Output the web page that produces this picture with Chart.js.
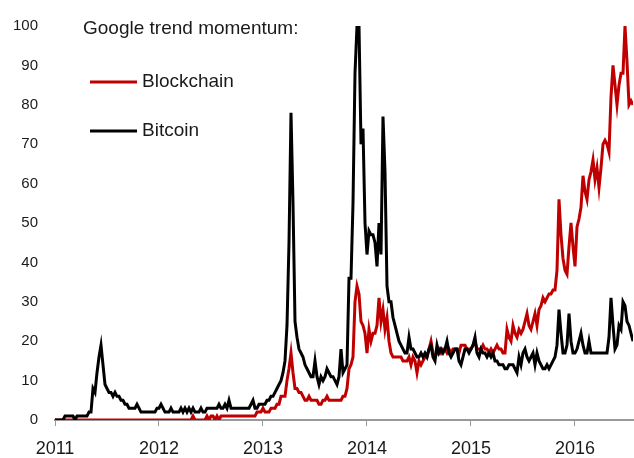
<!DOCTYPE html>
<html>
<head>
<meta charset="utf-8">
<script src="https://cdn.jsdelivr.net/npm/chart.js@4"></script>
<style>
  html, body { margin: 0; padding: 0; background: #fff; }
  canvas { display: block; }
</style>
</head>
<body>
<canvas id="myChart" width="634" height="458"></canvas>
<script>
// weekly Google trend index, first week of 2011 onwards
const startYear = 2011;
const weeksPerYear = 52;
const yearTicks = [2011, 2012, 2013, 2014, 2015, 2016];
const legendTitle = 'Google trend momentum:';

const blockchain = [
  0,0,0,0,0,0,0,0,0,0, 0,0,0,0,0,0,0,0,0,0,
  0,0,0,0,0,0,0,0,0,0, 0,0,0,0,0,0,0,0,0,0,
  0,0,0,0,0,0,0,0,0,0, 0,0,0,0,0,0,0,0,0,0,
  0,0,0,0,0,0,0,0,0,1, 0,0,0,0,0,0,1,0,1,1,
  0,1,0,1,1,1,1,1,1,1, 1,1,1,1,1,1,1,1,1,1,
  1,2,2,2,3,2,2,2,3,3, 3,4,4,6,6,6,10,13,17,12,
  8,8,7,7,6,5,5,6,5,5, 5,5,4,4,5,5,6,5,5,5,
  5,5,5,5,6,6,8,13,14,16, 30,34,32,25,24,22,17,23,20,22,
  22,24,31,25,28,23,26,20,17,16, 16,16,16,16,15,15,15,16,14,16,
  15,12,15,14,15,16,16,18,20,17, 16,17,18,17,18,18,17,18,17,18,
  18,18,17,19,19,19,18,18,18,19, 20,18,18,18,19,18,18,17,18,17,
  18,19,18,18,17,17,23,21,20,24, 22,21,23,22,23,25,27,24,23,25,
  27,24,28,29,31,30,31,32,32,33, 33,38,56,47,41,38,37,44,50,44,
  39,49,51,54,62,58,56,61,63,66, 61,64,59,64,70,71,70,68,82,90,
  85,80,85,88,88,100,91,80,81,80
];

const bitcoin = [
  0,0,0,0,0,1,1,1,1,1, 0,1,1,1,1,1,1,2,2,8,
  7,12,16,19,14,9,8,7,7,6, 7,6,6,5,5,4,4,3,3,3,
  3,4,3,2,2,2,2,2,2,2, 2,3,3,4,3,2,2,2,3,2,
  2,2,2,3,2,3,2,3,2,3, 2,2,2,3,2,2,3,3,3,3,
  3,3,4,3,3,4,3,5,3,3, 3,3,3,3,3,3,3,3,4,5,
  3,3,4,4,4,4,5,5,6,6, 7,8,9,10,12,15,24,45,78,55,
  25,21,18,17,16,14,13,12,11,11, 15,11,9,11,10,11,13,12,11,11,
  10,9,11,18,12,13,14,36,36,55, 88,100,100,70,74,50,42,48,47,47,
  45,39,50,42,77,63,34,30,30,26, 24,22,20,19,18,17,17,21,18,18,
  17,16,16,17,16,17,16,18,19,16, 15,19,17,18,17,18,20,17,16,17,
  18,18,15,14,16,18,18,17,18,19, 21,17,16,18,17,17,16,17,16,17,
  15,15,14,14,14,13,13,14,14,14, 13,12,16,14,17,18,16,15,16,17,
  14,17,15,14,13,13,14,13,14,15, 16,19,28,22,17,17,19,27,20,17,
  17,18,20,22,19,17,17,20,17,17, 17,17,17,17,17,17,17,21,31,24,
  18,19,24,23,30,29,25,24,22,20
];

const toPoints = (values) => values.map((v, i) => ({ x: startYear + i / weeksPerYear, y: v }));

const fontFamily = '"Liberation Sans", Arial, sans-serif';

// legend drawn in the top-left corner of the plot
const trendLegend = {
  id: 'trendLegend',
  afterDraw(chart) {
    const ctx = chart.ctx;
    ctx.save();
    ctx.fillStyle = '#1a1a1a';
    ctx.textBaseline = 'middle';
    ctx.textAlign = 'left';
    ctx.font = '19px ' + fontFamily;
    ctx.fillText(legendTitle, 83, 29);
    chart.data.datasets.forEach((ds, k) => {
      const y = 82 + k * 49;
      ctx.strokeStyle = ds.borderColor;
      ctx.lineWidth = 3;
      ctx.beginPath();
      ctx.moveTo(90, y);
      ctx.lineTo(137, y);
      ctx.stroke();
      ctx.fillText(ds.label, 142, y);
    });
    ctx.restore();
  }
};

const data = {
  datasets: [
    {
      label: 'Blockchain',
      data: toPoints(blockchain),
      borderColor: '#C00000',
      borderWidth: 3,
      pointRadius: 0,
      tension: 0,
      order: 2
    },
    {
      label: 'Bitcoin',
      data: toPoints(bitcoin),
      borderColor: '#000000',
      borderWidth: 3,
      pointRadius: 0,
      tension: 0,
      order: 1
    }
  ]
};

const config = {
  type: 'line',
  data,
  options: {
    responsive: false,
    animation: false,
    layout: { padding: { top: 20, right: 1, left: 0, bottom: 0 } },
    scales: {
      x: {
        type: 'linear',
        min: startYear,
        max: startYear + (blockchain.length - 1) / weeksPerYear,
        afterBuildTicks: (scale) => {
          scale.ticks = yearTicks.map(v => ({ value: v }));
        },
        afterFit: (scale) => { scale.height = 38; },
        ticks: {
          callback: (v) => String(v),
          color: '#1a1a1a',
          font: { family: fontFamily, size: 18 },
          padding: 12,
          maxRotation: 0
        },
        grid: {
          drawOnChartArea: false,
          drawTicks: true,
          tickLength: 6,
          color: '#999999'
        },
        border: { display: true, color: '#999999', width: 2 }
      },
      y: {
        min: 0,
        max: 100,
        afterFit: (scale) => { scale.width = 55; },
        ticks: {
          stepSize: 10,
          color: '#1a1a1a',
          font: { family: fontFamily, size: 15 },
          padding: 17
        },
        grid: { display: false, drawTicks: false },
        border: { display: false }
      }
    },
    plugins: {
      legend: { display: false },
      tooltip: { enabled: false }
    }
  },
  plugins: [trendLegend]
};

const myChart = new Chart(document.getElementById('myChart'), config);
</script>
</body>
</html>
